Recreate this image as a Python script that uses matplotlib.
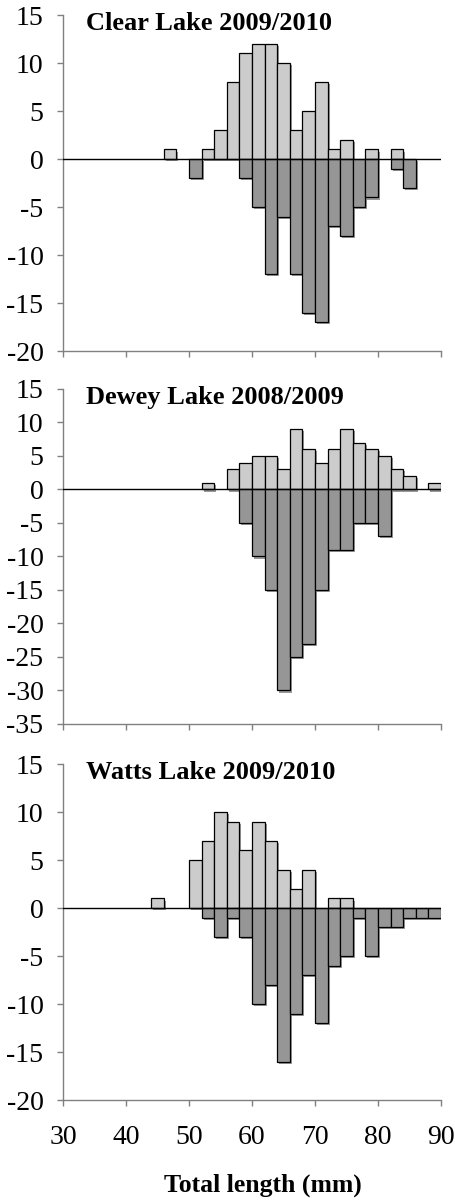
import numpy as np
import matplotlib
matplotlib.use('Agg')
import matplotlib.pyplot as plt
import matplotlib.patheffects as pe

plt.rcParams['font.family'] = ['Liberation Serif', 'DejaVu Serif']
plt.rcParams['axes.unicode_minus'] = False

# bins (left edge, mm), 2 mm wide
bin_left = list(range(30, 90, 2))

# Clear Lake 2009/2010
clear_pos = [0, 0, 0, 0, 0, 0, 0, 0, 1, 0, 0, 1, 3, 8, 11, 12, 12, 10, 3, 5, 8, 1, 2, 0, 1, 0, 1, 0, 0, 0]
clear_neg = [0, 0, 0, 0, 0, 0, 0, 0, 0, 0, 2, 0, 0, 0, 2, 5, 12, 6, 12, 16, 17, 7, 8, 5, 4, 0, 1, 3, 0, 0]

# Dewey Lake 2008/2009
dewey_pos = [0, 0, 0, 0, 0, 0, 0, 0, 0, 0, 0, 1, 0, 3, 4, 5, 5, 3, 9, 6, 4, 6, 9, 7, 6, 5, 3, 2, 0, 1]
dewey_neg = [0, 0, 0, 0, 0, 0, 0, 0, 0, 0, 0, 0, 0, 0, 5, 10, 15, 30, 25, 23, 15, 9, 9, 5, 5, 7, 0, 0, 0, 0]

# Watts Lake 2009/2010
watts_pos = [0, 0, 0, 0, 0, 0, 0, 1, 0, 0, 5, 7, 10, 9, 6, 9, 7, 4, 2, 4, 0, 1, 1, 0, 0, 0, 0, 0, 0, 0]
watts_neg = [0, 0, 0, 0, 0, 0, 0, 0, 0, 0, 0, 1, 3, 1, 3, 10, 8, 16, 11, 7, 12, 6, 5, 1, 5, 2, 2, 1, 1, 1]

titles = ['Clear Lake 2009/2010', 'Dewey Lake 2008/2009', 'Watts Lake 2009/2010']
ylims = [(-20, 15), (-35, 15), (-20, 15)]
xticks = [30, 40, 50, 60, 70, 80, 90]

# axes boxes in figure fraction [left, bottom, width, height]
boxes = [[0.138, 0.7082, 0.829, 0.2793],
         [0.138, 0.3982, 0.829, 0.2785],
         [0.138, 0.0856, 0.829, 0.2793]]

series = [(clear_pos, clear_neg), (dewey_pos, dewey_neg), (watts_pos, watts_neg)]

fig = plt.figure(figsize=(4.56, 12.03), dpi=100)

shadow = [pe.SimplePatchShadow(offset=(1.5, -1.5), shadow_rgbFace='#555555', alpha=0.6), pe.Normal()]

for i in range(3):
	ax = fig.add_axes(boxes[i])
	pos, neg = series[i]
	x = np.array(bin_left)
	pos = np.array(pos)
	neg = -np.array(neg)

	mp = pos != 0
	mn = neg != 0
	b1 = ax.bar(x[mp], pos[mp], width=2, align='edge', color='#cccccc', edgecolor='black', linewidth=0.9, zorder=2)
	b2 = ax.bar(x[mn], neg[mn], width=2, align='edge', color='#969696', edgecolor='black', linewidth=0.9, zorder=2)
	for p in list(b1) + list(b2):
		p.set_path_effects(shadow)

	ax.axhline(0, color='black', lw=1.0, zorder=3)

	ax.set_xlim(30, 90)
	ax.set_ylim(*ylims[i])
	lo, hi = ylims[i]
	ax.set_yticks(list(range(lo, hi + 1, 5)))
	ax.set_xticks(xticks)
	if i < 2:
		ax.set_xticklabels([])
	ax.tick_params(axis='both', labelsize=20, length=4, width=1, color='#808080')
	ax.tick_params(axis='y', pad=10)
	ax.tick_params(axis='x', pad=14)

	for s in ['top', 'right']:
		ax.spines[s].set_visible(False)
	for s in ['left', 'bottom']:
		ax.spines[s].set_color('#808080')
		ax.spines[s].set_linewidth(1)

	ax.text(0.06, 0.975, titles[i], transform=ax.transAxes, fontsize=19, fontweight='bold', ha='left', va='center')

fig.text(263 / 456, 1 - 1185 / 1203, 'Total length (mm)', fontsize=18.5, fontweight='bold', ha='center', va='center')

fig.savefig('out.png', dpi=100)
